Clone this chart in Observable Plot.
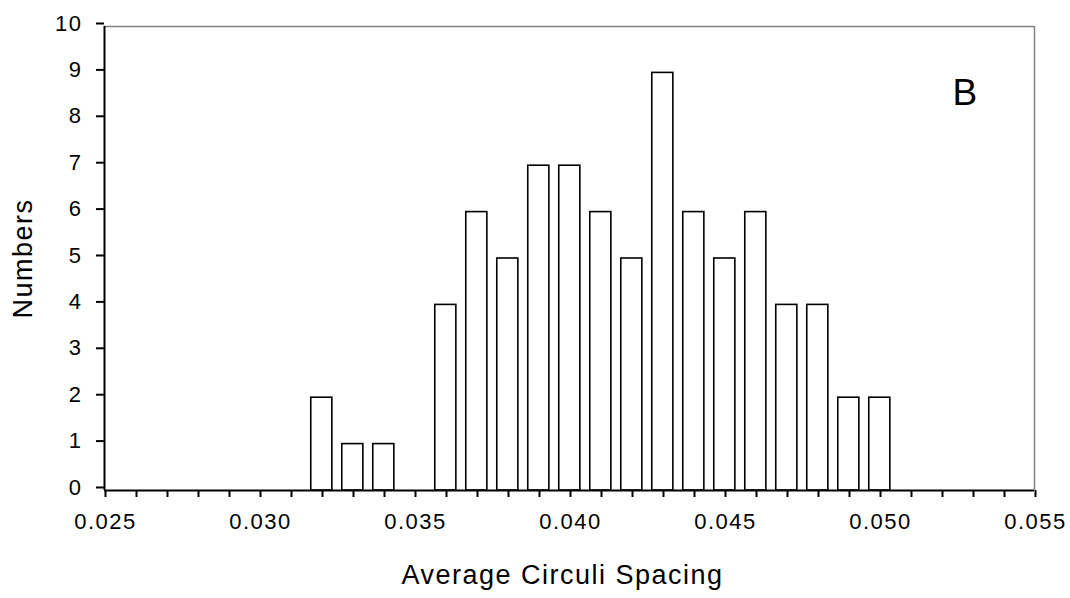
<!DOCTYPE html>
<html>
<head>
<meta charset="utf-8">
<script src="https://cdn.jsdelivr.net/npm/d3@7"></script>
<script src="https://cdn.jsdelivr.net/npm/@observablehq/plot@0.6"></script>
<style>
  html, body { margin: 0; padding: 0; background: white; }
  #chart svg text { letter-spacing: 1.5px; }
</style>
</head>
<body>
<div id="chart"></div>
<script>
// Data
const spacing = [0.032, 0.033, 0.034, 0.035, 0.036, 0.037, 0.038, 0.039, 0.040, 0.041,
                 0.042, 0.043, 0.044, 0.045, 0.046, 0.047, 0.048, 0.049, 0.050];
const counts  = [2, 1, 1, 0, 4, 6, 5, 7, 7, 6, 5, 9, 6, 5, 6, 4, 4, 2, 2];
const xTicks = d3.range(25, 56).map(d => d / 1000);
const xLabelTicks = [0.025, 0.030, 0.035, 0.040, 0.045, 0.050, 0.055];
const yTicks = [0, 1, 2, 3, 4, 5, 6, 7, 8, 9, 10];
const xTitle = "Average Circuli Spacing";
const yTitle = "Numbers";
const panelLabel = "B";

const data = spacing.map((x, i) => ({x, n: counts[i]})).filter(d => d.n > 0);
const isLabel = v => xLabelTicks.some(t => Math.abs(t - v) < 1e-9);

const chart = Plot.plot({
  width: 1070,
  height: 598,
  marginLeft: 104,
  marginRight: 36,
  marginTop: 26,
  marginBottom: 108,
  style: {fontFamily: "'Liberation Sans', Arial, sans-serif", fontSize: "22px", color: "black", background: "white"},
  x: {domain: [0.025, 0.055]},
  y: {domain: [0, 10]},
  marks: [
    Plot.ruleY([10], {stroke: "#808080", strokeWidth: 1.5}),
    Plot.ruleX([0.055], {stroke: "#808080", strokeWidth: 1.5}),
    Plot.rectY(data, {
      x1: d => d.x - 0.00033, x2: d => d.x + 0.00035,
      y1: 0, y2: "n",
      fill: "white", stroke: "black", strokeWidth: 1.6
    }),
    Plot.axisX({
      ticks: xTicks, tickSize: 7, tickPadding: 16, strokeWidth: 2,
      tickFormat: v => isLabel(v) ? d3.format(".3f")(v) : "",
      fontSize: 22, label: null, dx: 1
    }),
    Plot.axisY({
      ticks: yTicks, tickSize: 8, tickPadding: 14, strokeWidth: 2,
      fontSize: 22, label: null, dy: -3
    }),
    Plot.ruleY([0], {stroke: "black", strokeWidth: 2}),
    Plot.ruleX([0.025], {stroke: "black", strokeWidth: 2}),
    Plot.text([panelLabel], {frameAnchor: "top-right", textAnchor: "middle", lineAnchor: "middle", dx: -69, dy: 67, fontSize: 37}),
    Plot.text([xTitle], {frameAnchor: "bottom", textAnchor: "middle", lineAnchor: "middle", dx: -7, dy: 85, fontSize: 27}),
    Plot.text([yTitle], {frameAnchor: "left", textAnchor: "middle", lineAnchor: "middle", dx: -81, rotate: -90, fontSize: 27})
  ]
});
document.getElementById("chart").appendChild(chart);
</script>
</body>
</html>
